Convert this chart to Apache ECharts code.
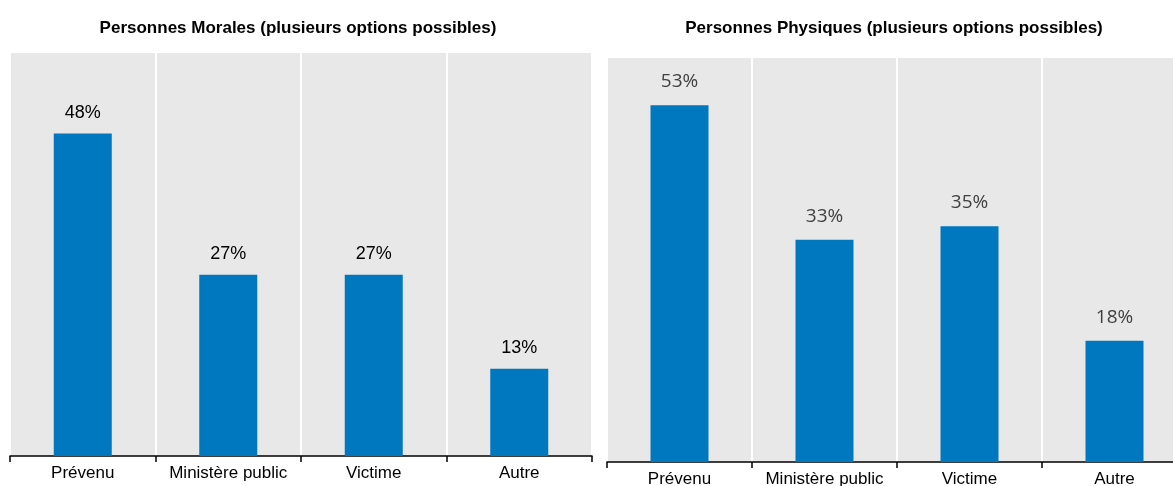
<!DOCTYPE html>
<html>
<head>
<meta charset="utf-8">
<script src="https://cdn.jsdelivr.net/npm/echarts@6/dist/echarts.min.js"></script>
<style>
  html, body { margin: 0; padding: 0; background: #fff; }
  #chart { width: 1173px; height: 486px; }
</style>
</head>
<body>
<div id="chart"></div>
<script>
// Categories shared by both panels
const categories = ['Prévenu', 'Ministère public', 'Victime', 'Autre'];

// Share (%) per role, legal persons
const moralesValues = [48, 27, 27, 13];
// Share (%) per role, natural persons
const physiquesValues = [53, 33, 35, 18];

const titleMorales = 'Personnes Morales (plusieurs options possibles)';
const titlePhysiques = 'Personnes Physiques (plusieurs options possibles)';

const BLUE = '#0078BF';
const PANEL_BG = '#E8E8E8';
const SANS = '"Liberation Sans", Arial, sans-serif';

function catAxis(gridIndex) {
  return {
    type: 'category',
    gridIndex: gridIndex,
    data: categories,
    boundaryGap: true,
    axisLine: { show: true, lineStyle: { color: '#000', width: 1.5 } },
    axisTick: { show: true, interval: 0, length: 6, lineStyle: { color: '#000', width: 1.5 } },
    axisLabel: { interval: 0, color: '#000', fontFamily: SANS, fontSize: 17, margin: 9 },
    splitLine: { show: true, interval: 0, lineStyle: { color: '#fff', width: 2 } }
  };
}

function valAxis(gridIndex) {
  return {
    type: 'value',
    gridIndex: gridIndex,
    min: 0,
    max: 60,
    show: false,
    splitLine: { show: false }
  };
}

const chart = echarts.init(document.getElementById('chart'), null, { renderer: 'canvas' });

chart.setOption({
  animation: false,
  backgroundColor: '#fff',
  title: [
    {
      text: titleMorales,
      left: 293, top: 15, textAlign: 'center',
      textStyle: { fontFamily: SANS, fontWeight: 'bold', fontSize: 17, color: '#000' }
    },
    {
      text: titlePhysiques,
      left: 889, top: 15, textAlign: 'center',
      textStyle: { fontFamily: SANS, fontWeight: 'bold', fontSize: 17, color: '#000' }
    }
  ],
  grid: [
    { left: 10, top: 53, width: 582, height: 403, show: true, backgroundColor: PANEL_BG, borderWidth: 0, outerBoundsMode: 'none', containLabel: false },
    { left: 607, top: 58, width: 580, height: 404, show: true, backgroundColor: PANEL_BG, borderWidth: 0, outerBoundsMode: 'none', containLabel: false }
  ],
  xAxis: [catAxis(0), catAxis(1)],
  yAxis: [valAxis(0), valAxis(1)],
  series: [
    {
      type: 'bar',
      xAxisIndex: 0, yAxisIndex: 0,
      data: moralesValues,
      barWidth: 58,
      itemStyle: { color: BLUE },
      label: {
        show: true, position: 'top', distance: 12,
        formatter: '{c}%',
        fontFamily: SANS, fontSize: 18, color: '#000'
      }
    },
    {
      type: 'bar',
      xAxisIndex: 1, yAxisIndex: 1,
      data: physiquesValues,
      barWidth: 58,
      itemStyle: { color: BLUE },
      label: {
        show: true, position: 'top', distance: 14,
        formatter: '{c}%',
        fontFamily: '"Open Sans", "Noto Sans", sans-serif', fontSize: 19, color: '#404040'
      }
    }
  ]
});
</script>
</body>
</html>
